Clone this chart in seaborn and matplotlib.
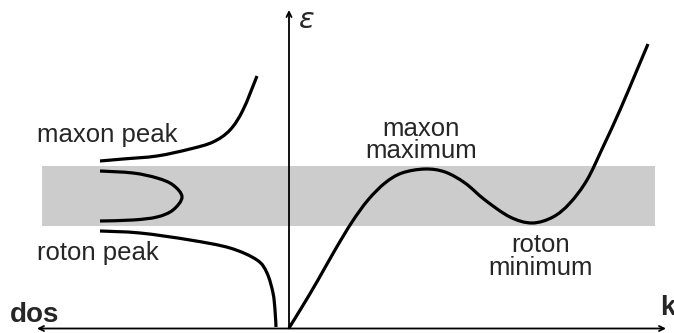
import numpy as np
import pandas as pd
import matplotlib
matplotlib.use("Agg")
import matplotlib.pyplot as plt
from matplotlib.path import Path
from matplotlib.patches import PathPatch
import seaborn as sns

sns.set_theme(style="white")
plt.rcParams['font.family'] = ['Liberation Sans', 'DejaVu Sans']

# Dispersion relation epsilon(k) (arbitrary units)
k_vals = [0.00, 0.13, 0.29, 0.46, 0.63, 0.79, 0.96, 1.13, 1.36, 1.56, 1.76, 1.96,
          2.21, 2.43, 2.64, 2.81, 2.98, 3.14, 3.31, 3.48, 3.59]
eps_vals = [0.00, 0.21, 0.48, 0.78, 1.06, 1.28, 1.45, 1.55, 1.59, 1.56, 1.45, 1.28,
            1.11, 1.05, 1.11, 1.25, 1.48, 1.81, 2.18, 2.58, 2.84]

# Density of states branches (dos drawn towards the left)
maxon_dos = [1.89, 1.66, 1.32, 0.99, 0.76, 0.59, 0.46, 0.32]
maxon_eps = [1.67, 1.69, 1.72, 1.79, 1.86, 1.98, 2.18, 2.52]

loop_dos = [1.89, 1.56, 1.32, 1.16, 1.07, 1.16, 1.32, 1.56, 1.89]
loop_eps = [1.57, 1.55, 1.50, 1.43, 1.31, 1.18, 1.11, 1.08, 1.07]

roton_dos = [1.89, 1.49, 0.99, 0.59, 0.32, 0.22, 0.16, 0.14, 0.13]
roton_eps = [0.97, 0.95, 0.88, 0.80, 0.68, 0.55, 0.35, 0.18, 0.01]

# Shaded energy band
band_eps = [1.02, 1.62]
band_k = [-2.47, 3.66]

labels = ["maxon peak", "roton peak", "maxon\nmaximum", "roton\nminimum"]


def smooth_path(x, y):
    """Catmull-Rom curve through the read points, rendered as Bezier segments."""
    p = np.column_stack([x, y]).astype(float)
    ext = np.vstack([p[0], p, p[-1]])
    verts = [p[0]]
    codes = [Path.MOVETO]
    for i in range(len(p) - 1):
        p0, p1, p2, p3 = ext[i], ext[i + 1], ext[i + 2], ext[i + 3]
        c1 = p1 + (p2 - p0) / 6.0
        c2 = p2 - (p3 - p1) / 6.0
        verts += [c1, c2, p2]
        codes += [Path.CURVE4] * 3
    return Path(verts, codes)


fig = plt.figure(figsize=(6.74, 3.33), dpi=100)
ax = fig.add_axes([0, 0, 1, 1])
ax.set_xlim(-2.89, 3.85)
ax.set_ylim(-0.05, 3.28)
ax.axis('off')

ax.fill_between(band_k, band_eps[0], band_eps[1], color='#cccccc', lw=0, zorder=0)

lw = 2.3
# register the curves on the axes through seaborn (invisible), draw smooth outline
disp = pd.DataFrame({"k": k_vals, "eps": eps_vals})
sns.lineplot(data=disp, x="k", y="eps", sort=False, estimator=None,
             color='black', lw=0, ax=ax)
curves = [(k_vals, eps_vals)]
for d, e in [(maxon_dos, maxon_eps), (loop_dos, loop_eps), (roton_dos, roton_eps)]:
    curves.append((-np.array(d), e))
for cx, cy in curves:
    ax.add_patch(PathPatch(smooth_path(cx, cy), facecolor='none', edgecolor='black',
                           lw=lw, capstyle='butt', joinstyle='round', zorder=3))
ax.set_xlim(-2.89, 3.85)
ax.set_ylim(-0.05, 3.28)

# axes arrows
ax.annotate("", xy=(0, 3.18), xytext=(0, -0.005),
            arrowprops=dict(arrowstyle='->', lw=1.3, color='black',
                            mutation_scale=9, shrinkA=0, shrinkB=0), zorder=4)
ax.annotate("", xy=(-2.52, -0.005), xytext=(3.77, -0.005),
            arrowprops=dict(arrowstyle='<->', lw=1.3, color='black',
                            mutation_scale=9, shrinkA=0, shrinkB=0), zorder=4)

fs = 18.5
ax.text(-2.52, 1.86, labels[0], fontsize=fs, ha='left', va='baseline')
ax.text(-2.52, 0.68, labels[1], fontsize=fs, ha='left', va='baseline')
ax.text(1.32, 1.70, labels[2], fontsize=fs, ha='center', va='baseline',
        multialignment='center', linespacing=0.88)
ax.text(2.52, 0.53, labels[3], fontsize=fs, ha='center', va='baseline',
        multialignment='center', linespacing=0.95)

ax.text(-2.79, 0.06, "dos", fontsize=20, fontweight='bold', ha='left', va='baseline')
ax.text(3.71, 0.13, "k", fontsize=20, fontweight='bold', ha='left', va='baseline')
ax.text(0.09, 3.08, r"$\varepsilon$", fontsize=21, ha='left', va='center')

fig.savefig("out.png", dpi=100)
